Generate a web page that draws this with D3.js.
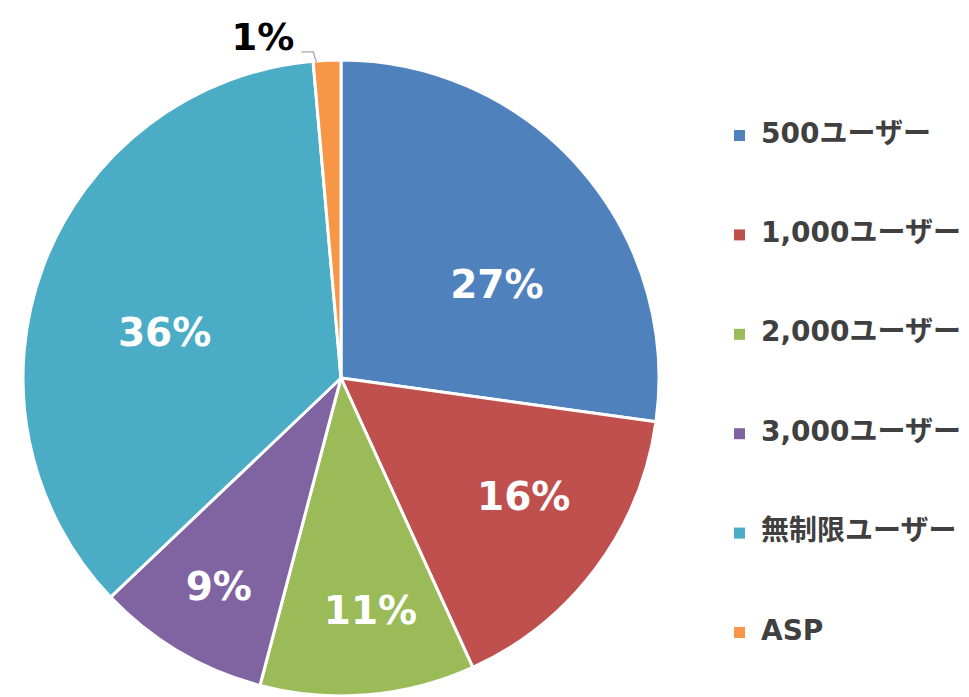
<!DOCTYPE html>
<html>
<head>
<meta charset="utf-8">
<script src="https://cdn.jsdelivr.net/npm/d3@7"></script>
<style>
  body { margin: 0; background: #fff; }
  text { font-family: "DejaVu Sans", "Noto Sans CJK JP", sans-serif; font-weight: bold; }
</style>
</head>
<body>
<svg width="969" height="697"></svg>
<script>
// **** data ****
var categories = ["500ユーザー", "1,000ユーザー", "2,000ユーザー", "3,000ユーザー", "無制限ユーザー", "ASP"];
var shares = [27.2, 16.0, 10.9, 8.8, 35.7, 1.4];
var colors = ["#4F81BD", "#C0504D", "#9BBB59", "#8064A2", "#4BACC6", "#F79646"];

// label nudges from the centroid (Excel "best fit" placement)
var labelNudge = [[0, 42], [17, -5], [12, 27], [-17, 31], [17, 28], [0, 0]];

var svg = d3.select('svg');
var cx = 341, cy = 378, radius = 318;

var pie = d3.pie().sort(null).value(function (d) { return d; });
var arcs = pie(shares);

var arc = d3.arc().innerRadius(0).outerRadius(radius);
var labelArc = d3.arc().innerRadius(radius * 0.65).outerRadius(radius * 0.65);

var g = svg.append('g').attr('transform', 'translate(' + cx + ',' + cy + ')');

g.selectAll('path.slice')
    .data(arcs)
    .enter().append('path')
    .attr('class', 'slice')
    .attr('d', arc)
    .attr('fill', function (d, i) { return colors[i]; })
    .attr('stroke', '#fff')
    .attr('stroke-width', 3)
    .attr('stroke-linejoin', 'round');

// **** labels inside slices ****
arcs.forEach(function (d, i) {
    if (i === 5) return;
    var c = labelArc.centroid(d);
    g.append('text')
        .attr('x', c[0] + labelNudge[i][0])
        .attr('y', c[1] + labelNudge[i][1])
        .attr('text-anchor', 'middle')
        .attr('dominant-baseline', 'central')
        .attr('fill', '#fff')
        .attr('font-size', '39px')
        .text(Math.round(d.data) + '%');
});

// **** ASP label outside with leader line ****
var asp = arcs[5];
var a0 = asp.startAngle + 0.01;
var edge = [Math.sin(a0) * (radius - 1), -Math.cos(a0) * (radius - 1)];
var elbow = [edge[0] - 3, edge[1] - 10];
var lineEnd = [elbow[0] - 12, elbow[1]];

g.append('polyline')
    .attr('points', [edge, elbow, lineEnd].map(function (p) { return p.join(','); }).join(' '))
    .attr('fill', 'none')
    .attr('stroke', '#A6A6A6')
    .attr('stroke-width', 1.2);

g.append('text')
    .attr('x', lineEnd[0] - 7)
    .attr('y', lineEnd[1] - 14)
    .attr('text-anchor', 'end')
    .attr('dominant-baseline', 'central')
    .attr('fill', '#000')
    .attr('font-size', '37px')
    .text(Math.round(asp.data) + '%');

// **** legend ****
var legendY = d3.scalePoint().domain(categories).range([136, 633]);

var legend = svg.append('g');
categories.forEach(function (name, i) {
    legend.append('rect')
        .attr('x', 734)
        .attr('y', legendY(name) - 6)
        .attr('width', 11)
        .attr('height', 11)
        .attr('fill', colors[i]);

    legend.append('text')
        .attr('x', 761)
        .attr('y', legendY(name) - 3)
        .attr('dominant-baseline', 'central')
        .attr('fill', '#404040')
        .attr('font-size', '28px')
        .text(name);
});
</script>
</body>
</html>
